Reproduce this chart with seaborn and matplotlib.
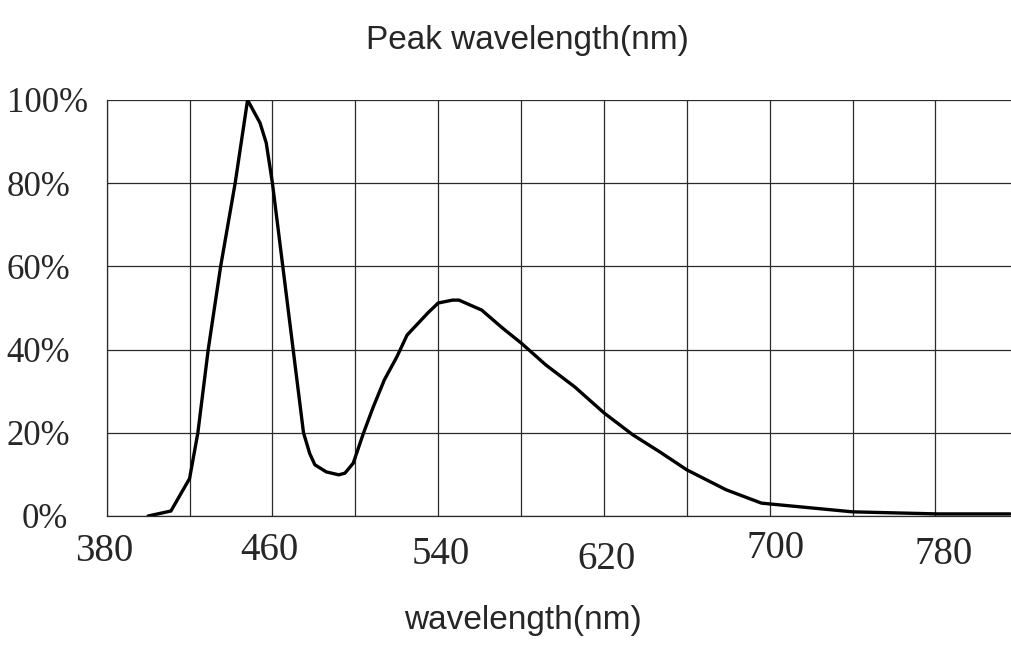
import matplotlib
matplotlib.use("Agg")
import matplotlib.pyplot as plt
import matplotlib.transforms as mtransforms
import seaborn as sns
import pandas as pd

# ---- data ----
wavelength = [400, 411, 420, 424, 429, 435, 442, 448, 454, 457, 460, 465, 470, 475,
              478, 480.5, 486, 492, 495, 499, 504, 508.5, 514, 520, 525, 535, 540,
              547, 550, 561, 571, 580, 592, 606, 620, 634, 647, 660, 679, 696, 700,
              740, 781, 816]
intensity = [0, 1.2, 9, 20, 40, 60, 80, 100, 94.5, 89.7, 80, 60, 40, 20,
             15, 12.3, 10.6, 9.9, 10.3, 12.7, 20, 26, 32.7, 38.2, 43.5, 48.8, 51.2,
             51.9, 51.9, 49.5, 45.2, 41.6, 36.3, 31, 24.8, 19.5, 15.4, 11.1, 6.3, 3.1, 2.9,
             1.0, 0.5, 0.5]
x_ticks = [380, 420, 460, 500, 540, 580, 620, 660, 700, 740, 780]
x_labels = ["380", "", "460", "", "540", "", "620", "", "700", "", "780"]
y_ticks = [0, 20, 40, 60, 80, 100]
y_labels = ["0%", "20%", "40%", "60%", "80%", "100%"]
title = "Peak wavelength(nm)"
xlabel = "wavelength(nm)"

df = pd.DataFrame({"wavelength": wavelength, "intensity": intensity})

sns.set_style("white")
plt.rcParams["font.family"] = ["Liberation Serif", "DejaVu Serif"]

fig = plt.figure(figsize=(10.11, 6.65), dpi=100)
ax = fig.add_axes([106.7 / 1011, 1 - 516 / 665, 1 - 106.7 / 1011, (516 - 100) / 665])

sns.lineplot(data=df, x="wavelength", y="intensity", ax=ax, color="black",
             linewidth=2.4, zorder=3)

ax.set_xlim(380, 816.5)
ax.set_ylim(0, 100)
ax.set_xticks(x_ticks)
ax.set_xticklabels(x_labels)
ax.set_yticks(y_ticks)
ax.set_yticklabels(y_labels)
ax.grid(True, color="#2a2a2a", linewidth=0.9)
ax.set_axisbelow(True)
for s in ["top", "right"]:
    ax.spines[s].set_visible(False)
for s in ["left", "bottom"]:
    ax.spines[s].set_color("#2a2a2a")
    ax.spines[s].set_linewidth(0.9)

ax.tick_params(axis="both", length=0)
ax.tick_params(axis="y", labelsize=25, pad=72)
ax.tick_params(axis="x", labelsize=28, pad=12)
for lab in ax.get_yticklabels():
    lab.set_horizontalalignment("left")
    if lab.get_text() == "0%":
        lab.set_transform(lab.get_transform() +
                          mtransforms.ScaledTranslation(0.15, 0, fig.dpi_scale_trans))

# small individual offsets of the x labels (px: dx, dy downward)
offs = {"380": (-3, 0), "460": (-3, -1), "540": (3, 3), "620": (3, 8),
        "700": (6, -3), "780": (8, 3)}
for lab in ax.get_xticklabels():
    t = lab.get_text()
    if t in offs:
        dx, dy = offs[t]
        lab.set_transform(lab.get_transform() +
                          mtransforms.ScaledTranslation(dx / 100, -dy / 100, fig.dpi_scale_trans))

ax.set_xlabel("")
ax.set_ylabel("")
fig.text(523 / 1011, 1 - 620 / 665, xlabel, ha="center", va="center",
         fontsize=24, family=["Liberation Sans", "DejaVu Sans"])
fig.text(527 / 1011, 1 - 40 / 665, title, ha="center", va="center",
         fontsize=24, family=["Liberation Sans", "DejaVu Sans"])

fig.savefig("out.png", dpi=100)
